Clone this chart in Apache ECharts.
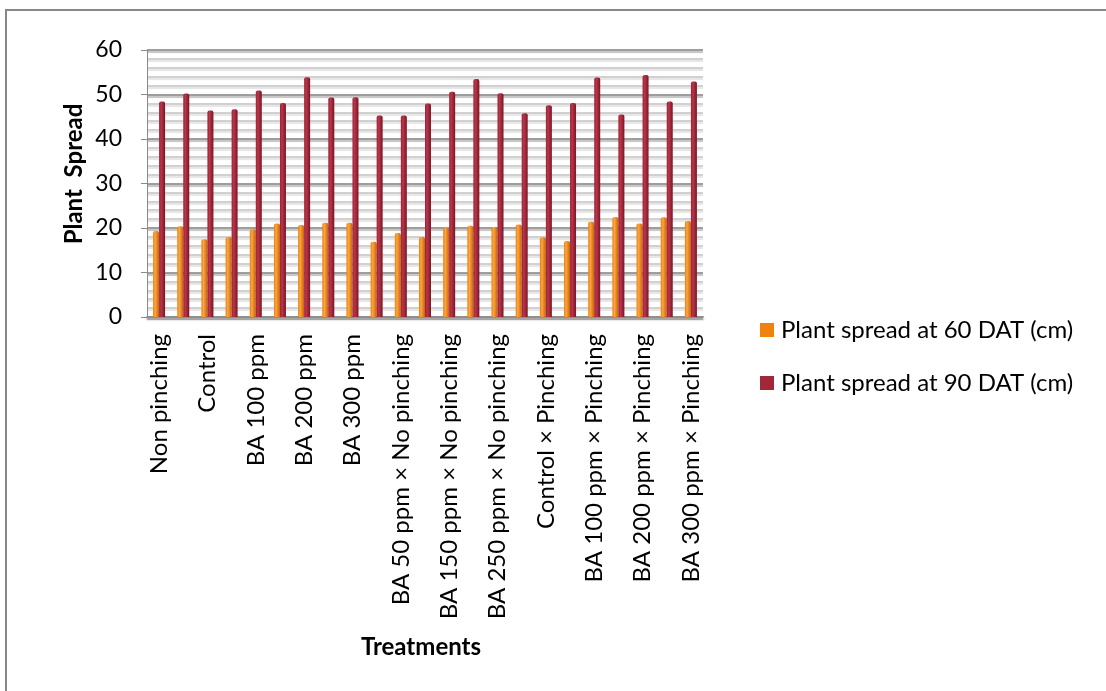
<!DOCTYPE html>
<html>
<head>
<meta charset="utf-8">
<script src="https://cdn.jsdelivr.net/npm/echarts@6/dist/echarts.min.js"></script>
<style>
  html, body { margin: 0; padding: 0; background: #fff; }
  #chart { width: 1106px; height: 691px; }
</style>
</head>
<body>
<div id="chart"></div>
<script>
// Treatment categories (every other label is shown on the axis)
const categories = [
  'Non pinching', 'Pinching',
  'Control', 'BA 50 ppm', 'BA 100 ppm', 'BA 150 ppm', 'BA 200 ppm', 'BA 250 ppm', 'BA 300 ppm',
  'Control × No pinching', 'BA 50 ppm × No pinching', 'BA 100 ppm × No pinching',
  'BA 150 ppm × No pinching', 'BA 200 ppm × No pinching', 'BA 250 ppm × No pinching',
  'BA 300 ppm × No pinching',
  'Control × Pinching', 'BA 50 ppm × Pinching', 'BA 100 ppm × Pinching',
  'BA 150 ppm × Pinching', 'BA 200 ppm × Pinching', 'BA 250 ppm × Pinching',
  'BA 300 ppm × Pinching'
];

// Plant spread (cm)
const spread60 = [19.3, 20.4, 17.5, 18.0, 19.7, 21.0, 20.7, 21.2, 21.2, 16.9, 18.9, 18.0,
                  20.1, 20.5, 20.2, 20.8, 17.9, 17.1, 21.4, 22.5, 21.0, 22.4, 21.6];
const spread90 = [48.4, 50.2, 46.4, 46.7, 50.9, 48.1, 53.9, 49.3, 49.4, 45.3, 45.3, 48.0,
                  50.6, 53.5, 50.3, 45.8, 47.6, 48.1, 53.8, 45.5, 54.4, 48.4, 52.9];

const seriesNames = ['Plant spread at 60 DAT (cm)', 'Plant spread at 90 DAT (cm)'];
const yTicks = { min: 0, max: 60, major: 10, minor: 2 };

const FONT = 'Lato';

function cylinder(light, mid, dark) {
  return new echarts.graphic.LinearGradient(0, 0, 1, 0, [
    { offset: 0, color: mid },
    { offset: 0.35, color: light },
    { offset: 1, color: dark }
  ]);
}

const chart = echarts.init(document.getElementById('chart'), null, { renderer: 'canvas' });

chart.setOption({
  backgroundColor: '#ffffff',
  animation: false,
  textStyle: { fontFamily: FONT, color: '#000' },
  grid: { left: 147, right: 403, top: 50, bottom: 374 },
  legend: {
    orient: 'vertical',
    left: 760,
    top: 318,
    padding: 0,
    itemWidth: 14,
    itemHeight: 14,
    itemGap: 29,
    icon: 'rect',
    textStyle: { fontFamily: FONT, fontSize: 24, color: '#000', padding: [0, 0, 0, 2] },
    data: [
      { name: seriesNames[0], itemStyle: { color: '#F2820E' } },
      { name: seriesNames[1], itemStyle: { color: '#A0283A' } }
    ]
  },
  xAxis: {
    type: 'category',
    data: categories,
    axisLine: { show: true, lineStyle: { color: '#9a9a9a', width: 2, shadowColor: 'rgba(0,0,0,0.25)', shadowOffsetY: 2, shadowBlur: 2 } },
    axisTick: { show: false },
    axisLabel: {
      interval: 1,
      rotate: 90,
      margin: 17,
      fontFamily: FONT,
      fontSize: 24,
      color: '#000'
    }
  },
  yAxis: [
    {
      type: 'value',
      min: yTicks.min,
      max: yTicks.max,
      interval: yTicks.major,
      axisLine: { show: true, lineStyle: { color: '#8a8a8a', width: 1 } },
      axisTick: { show: true, length: 6, lineStyle: { color: '#8a8a8a' } },
      axisLabel: { margin: 25, fontFamily: FONT, fontSize: 23, color: '#000' },
      splitLine: { show: true, lineStyle: { color: '#8c8c8c', width: 1.5, shadowColor: 'rgba(0,0,0,0.2)', shadowOffsetY: 2, shadowBlur: 1 } },
      z: 3
    },
    {
      type: 'value',
      min: yTicks.min,
      max: yTicks.max,
      interval: yTicks.minor,
      position: 'left',
      axisLine: { show: false },
      axisTick: { show: false },
      axisLabel: { show: false },
      splitLine: { show: true, lineStyle: { color: '#c2c2c2', width: 1.5, shadowColor: 'rgba(0,0,0,0.14)', shadowOffsetY: 2, shadowBlur: 1 } }
    }
  ],
  series: [
    {
      name: seriesNames[0],
      type: 'bar',
      yAxisIndex: 0,
      data: spread60,
      barWidth: 6,
      barGap: '0%',
      itemStyle: { color: cylinder('#FBA640', '#EE7D0A', '#C86205'), borderRadius: [2, 2, 0, 0] },
      z: 5
    },
    {
      name: seriesNames[1],
      type: 'bar',
      yAxisIndex: 0,
      data: spread90,
      barWidth: 6,
      barGap: '0%',
      itemStyle: { color: cylinder('#B8364A', '#9E2032', '#7A1424'), borderRadius: [2, 2, 0, 0] },
      z: 5
    }
  ],
  graphic: [
    {
      type: 'rect',
      shape: { x: 6, y: 10, width: 1300, height: 900 },
      style: { fill: 'none', stroke: '#888888', lineWidth: 2 },
      silent: true
    },
    {
      type: 'text',
      x: 74,
      y: 174,
      rotation: Math.PI / 2,
      style: {
        text: 'Plant  Spread',
        fontFamily: FONT,
        fontWeight: 'bold',
        fontSize: 24,
        fill: '#000',
        align: 'center',
        verticalAlign: 'middle'
      }
    },
    {
      type: 'text',
      x: 421,
      y: 647,
      style: {
        text: 'Treatments',
        fontFamily: FONT,
        fontWeight: 'bold',
        fontSize: 24,
        fill: '#000',
        align: 'center',
        verticalAlign: 'middle'
      }
    }
  ]
});
</script>
</body>
</html>
